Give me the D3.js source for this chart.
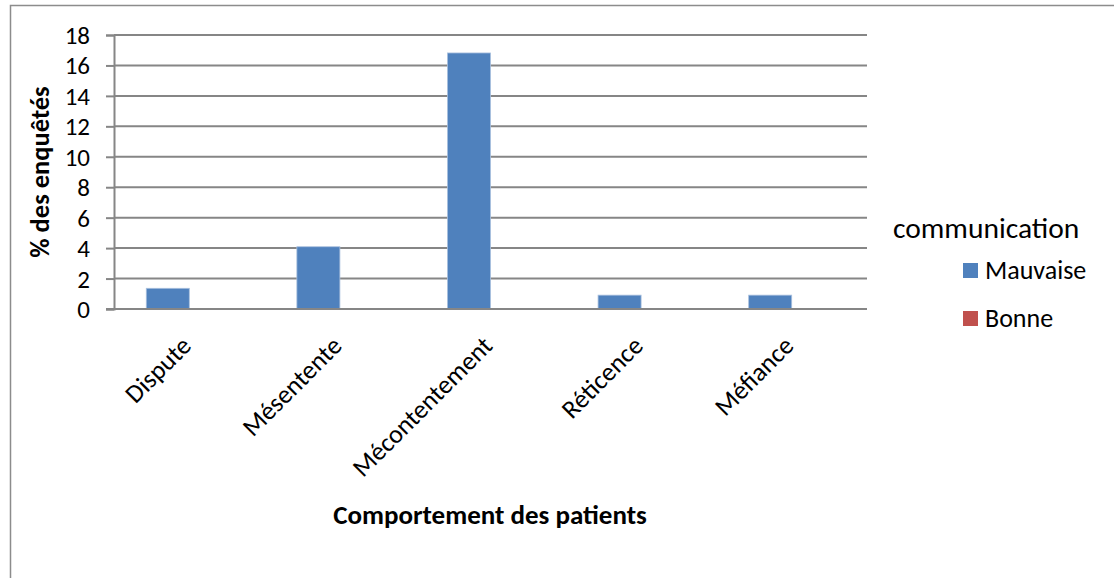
<!DOCTYPE html>
<html><head><meta charset="utf-8">
<script src="https://cdn.jsdelivr.net/npm/d3@7/dist/d3.min.js"></script>
<style>body{margin:0;background:#fff}svg{display:block}text{font-family:Carlito,Calibri,"Open Sans",sans-serif;fill:#000}</style>
</head><body>
<script>
const categories = ["Dispute","Mésentente","Mécontentement","Réticence","Méfiance"];
const seriesNames = ["Mauvaise","Bonne"];
const mauvaise = [1.36, 4.09, 16.82, 0.91, 0.91];
const bonne = [0, 0, 0, 0, 0];
const yTicks = [0,2,4,6,8,10,12,14,16,18];
const colors = ["#4F81BD","#C0504D"];
const legendTitle = "communication";
const yTitle = "% des enquêtés";
const xTitle = "Comportement des patients";

const W = 1114, H = 578;
const svg = d3.select("body").append("svg").attr("width", W).attr("height", H);
svg.append("rect").attr("x",10.5).attr("y",5.5).attr("width",1110).attr("height",590)
  .attr("fill","#fff").attr("stroke","#8c8c8c").attr("stroke-width",1.5);

const pLeft = 114, pRight = 867, pTop = 35, pBottom = 309;
const x0 = d3.scaleBand().domain(categories).range([pLeft, pRight]).paddingInner(0).paddingOuter(0);
const x1 = d3.scaleBand().domain(seriesNames).range([0, x0.bandwidth()]).paddingInner(0).paddingOuter(0.75);
const y = d3.scaleLinear().domain([0,18]).range([pBottom, pTop]);

// gridlines
svg.append("g").selectAll("line").data(yTicks.filter(d=>d>0)).join("line")
  .attr("x1", pLeft).attr("x2", pRight).attr("y1", d=>y(d)).attr("y2", d=>y(d))
  .attr("stroke","#868686").attr("stroke-width",2);

// y axis
const yAxis = svg.append("g").attr("transform",`translate(${pLeft},0)`)
  .call(d3.axisLeft(y).tickValues(yTicks).tickSize(8).tickPadding(16));
yAxis.select(".domain").attr("stroke","#868686").attr("stroke-width",2);
yAxis.selectAll(".tick line").attr("stroke","#868686").attr("stroke-width",2);
yAxis.selectAll(".tick text").style("font-size","25px").attr("fill","#000").attr("dy","0.34em");

// bars
const data = categories.map((c,i)=>({cat:c, vals:[mauvaise[i], bonne[i]]}));
const g = svg.append("g");
data.forEach(d=>{
  seriesNames.forEach((s,j)=>{
    const v = d.vals[j];
    if (v <= 0) return;
    g.append("rect")
      .attr("x", x0(d.cat) + x1(s)).attr("width", x1.bandwidth())
      .attr("y", y(v)).attr("height", y(0) - y(v))
      .attr("fill", colors[j]).attr("stroke","#a9c0de").attr("stroke-width",0.8);
  });
});

// x axis
const xAxis = svg.append("g").attr("transform",`translate(0,${pBottom})`)
  .call(d3.axisBottom(x0).tickSize(0).tickPadding(0));
xAxis.select(".domain").attr("stroke","#868686").attr("stroke-width",2).attr("d",`M${pLeft-8},0H${pRight}`);
xAxis.selectAll(".tick text")
  .style("font-size","26px").attr("text-anchor","end")
  .attr("transform","translate(-3,32) rotate(-45)").attr("dy","0.35em").attr("y",0);

// axis titles
svg.append("text").attr("transform","translate(49,172) rotate(-90)")
  .attr("text-anchor","middle").style("font-size","26.5px").style("font-weight","bold").text(yTitle);
svg.append("text").attr("x",490).attr("y",524)
  .attr("text-anchor","middle").style("font-size","27px").style("font-weight","bold").text(xTitle);

// legend
svg.append("text").attr("x",893).attr("y",238).style("font-size","29.5px").text(legendTitle);
seriesNames.forEach((s,j)=>{
  const ly = 270 + j*48;
  svg.append("rect").attr("x",963).attr("y",ly-7).attr("width",15).attr("height",15).attr("fill",colors[j]);
  svg.append("text").attr("x",985).attr("y",ly+9).style("font-size","26px").text(s);
});
</script>
</body></html>
